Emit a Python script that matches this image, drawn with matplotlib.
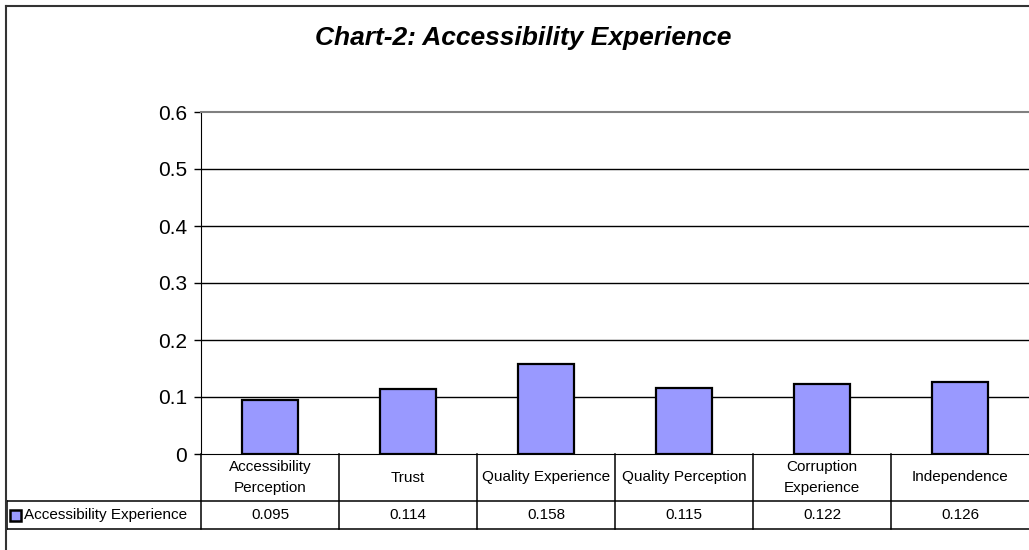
import matplotlib
matplotlib.use("Agg")
import matplotlib.pyplot as plt
from matplotlib.transforms import blended_transform_factory
from matplotlib.patches import Rectangle
from matplotlib.lines import Line2D

plt.rcParams["font.family"] = ["Liberation Sans", "DejaVu Sans"]

categories = ["Accessibility\nPerception", "Trust", "Quality Experience",
              "Quality Perception", "Corruption\nExperience", "Independence"]
values = [0.095, 0.114, 0.158, 0.115, 0.122, 0.126]
series_name = "Accessibility Experience"
yticks = [0, 0.1, 0.2, 0.3, 0.4, 0.5, 0.6]

W, H = 1029, 550
BAR = "#9999FF"

fig = plt.figure(figsize=(W / 100, H / 100), dpi=100)

# outer chart-area border (only top and left visible in the image)
fig.add_artist(Line2D([6 / W, 6 / W], [0, 1 - 6 / H], transform=fig.transFigure,
                      color="#333333", lw=1.5))
fig.add_artist(Line2D([6 / W, 1], [1 - 6 / H, 1 - 6 / H], transform=fig.transFigure,
                      color="#333333", lw=1.5))

ax = fig.add_axes([201 / W, (H - 454) / H, (W - 201) / W, (454 - 112) / H])
x = list(range(len(values)))
ax.bar(x, values, width=0.4, color=BAR, edgecolor="black", linewidth=1.6, zorder=3)
ax.set_xlim(-0.5, len(values) - 0.5)
ax.set_ylim(0, 0.6)
ax.set_yticks(yticks)
ax.set_yticklabels([f"{t:g}" for t in yticks], fontsize=15)
ax.set_xticks([])
for t in yticks[1:-1]:
    ax.axhline(t, color="black", lw=1, zorder=1)
ax.spines["top"].set_color("#808080")
ax.spines["top"].set_linewidth(1.5)
ax.spines["right"].set_visible(False)
ax.spines["left"].set_color("black")
ax.spines["bottom"].set_color("black")
ax.tick_params(axis="y", length=5, width=1, pad=5)

fig.text(523 / W, 1 - 38 / H, "Chart-2: Accessibility Experience", ha="center",
         va="center", fontsize=19, fontweight="bold", fontstyle="italic")

# data table below the axes
trans = blended_transform_factory(ax.transData, ax.transAxes)
ph = 454 - 112
y_head = -(501 - 454) / ph
y_val = -(529 - 454) / ph
x_left = -0.5 - (201 - 7) / 828 * len(values)

line_kw = dict(color="black", lw=1.1, clip_on=False, transform=trans)
for yy in (y_head, y_val):
    ax.add_line(Line2D([x_left, len(values) - 0.5], [yy, yy], **line_kw))
ax.add_line(Line2D([x_left, x_left], [y_head, y_val], **line_kw))
for i in range(len(values)):
    ax.add_line(Line2D([i - 0.5, i - 0.5], [0, y_val], **line_kw))
for i, (cat, v) in enumerate(zip(categories, values)):
    ax.text(i, y_head / 2, cat, transform=trans, ha="center", va="center",
            fontsize=11, linespacing=1.7)
    ax.text(i, (y_head + y_val) / 2, f"{v:.3f}", transform=trans, ha="center",
            va="center", fontsize=11)

# legend key in the row header
kx0 = x_left + (10 - 7) / 828 * len(values)
kw = 11 / 828 * len(values)
kh = 11 / ph
ym = (y_head + y_val) / 2
ax.add_patch(Rectangle((kx0, ym - kh / 2), kw, kh, transform=trans, facecolor=BAR,
                       edgecolor="black", lw=1.8, clip_on=False))
ax.text(x_left + (24 - 7) / 828 * len(values), ym, series_name, transform=trans,
        ha="left", va="center", fontsize=11)

fig.savefig("out.png", dpi=100)
